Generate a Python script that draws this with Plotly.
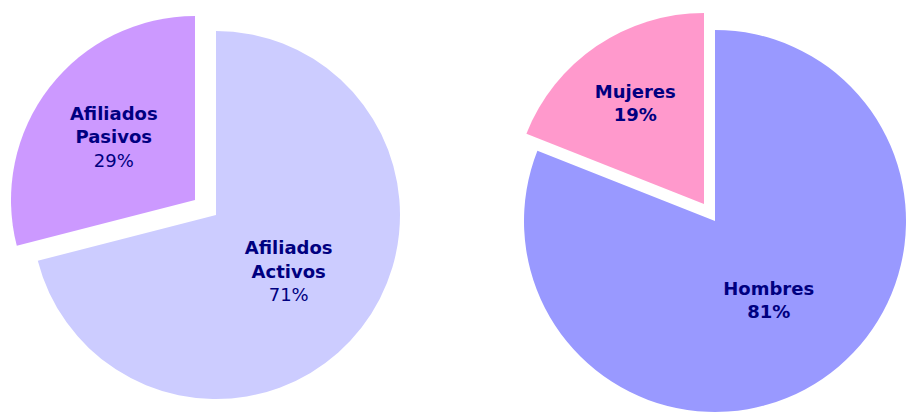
import plotly.graph_objects as go

# ---- data ----
left_labels = ["Afiliados Activos", "Afiliados Pasivos"]
left_values = [71, 29]
left_colors = ["#CCCCFF", "#CC99FF"]

right_labels = ["Hombres", "Mujeres"]
right_values = [81, 19]
right_colors = ["#9999FF", "#FF99CC"]

W, H = 906, 413
TEXT_COLOR = "#000080"
FONT = "DejaVu Sans"
FONT_SIZE = 18


def dom(cx, cy, r):
    """Pixel centre/radius -> paper domain (margins are zero)."""
    return dict(x=[(cx - r) / W, (cx + r) / W],
                y=[1 - (cy + r) / H, 1 - (cy - r) / H])


def slice_trace(labels, values, colors, show_idx, templates, domain):
    cols = [c if i == show_idx else "rgba(0,0,0,0)" for i, c in enumerate(colors)]
    tts = [t if i == show_idx else "" for i, t in enumerate(templates)]
    return go.Pie(
        labels=labels, values=values, sort=False, direction="clockwise",
        rotation=0, marker=dict(colors=cols, line=dict(width=0)),
        texttemplate=tts, textposition="inside",
        insidetextorientation="horizontal",
        textfont=dict(family=FONT, size=FONT_SIZE, color=TEXT_COLOR),
        hoverinfo="none", showlegend=False, domain=domain,
    )


left_tpl = ["<b>" + l.replace(" ", "<br>") + "</b><br>%{percent}" for l in left_labels]
right_tpl = ["<b>" + l + "<br>%{percent}</b>" for l in right_labels]

fig = go.Figure()
# left pie: main slice and pulled-out slice
fig.add_trace(slice_trace(left_labels, left_values, left_colors, 0, left_tpl, dom(216, 215, 184)))
fig.add_trace(slice_trace(left_labels, left_values, left_colors, 1, left_tpl, dom(195, 200, 184)))
# right pie: main slice and pulled-out slice
fig.add_trace(slice_trace(right_labels, right_values, right_colors, 0, right_tpl, dom(715, 221, 191)))
fig.add_trace(slice_trace(right_labels, right_values, right_colors, 1, right_tpl, dom(704, 204, 191)))

fig.update_layout(
    width=W, height=H, margin=dict(l=0, r=0, t=0, b=0),
    paper_bgcolor="white", plot_bgcolor="white",
    uniformtext=dict(minsize=FONT_SIZE, mode="show"),
)

fig.write_html("out.html")
